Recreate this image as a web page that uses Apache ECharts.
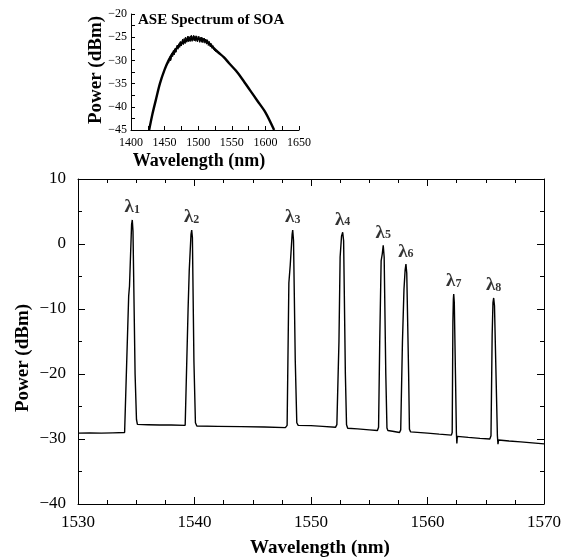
<!DOCTYPE html>
<html><head><meta charset="utf-8">
<script src="https://cdn.jsdelivr.net/npm/echarts@6/dist/echarts.min.js"></script>
<style>html,body{margin:0;padding:0;background:#fff}#c{width:573px;height:560px}</style>
</head><body><div id="c"></div>
<script>
// Main spectrum: [wavelength nm, power dBm]
const spectrum = [
 [1530,-29.1],[1531,-29.05],[1532,-29.1],[1533,-29.05],[1534.0,-29.0],
 [1534.15,-28.8],[1534.35,-8],[1534.42,-6.5],[1534.6,3.0],[1534.66,3.7],[1534.72,2.0],[1534.9,-20],[1535.02,-27.0],[1535.1,-27.75],
 [1536,-27.8],[1537,-27.85],[1538,-27.85],[1539.2,-27.9],[1539.35,-27.6],
 [1539.45,-10],[1539.55,-4],[1539.7,1.5],[1539.76,2.15],[1539.82,1.0],[1539.95,-18],[1540.08,-27.5],[1540.2,-28.0],
 [1542,-28.05],[1544,-28.1],[1546,-28.15],[1547.8,-28.25],[1547.95,-27.9],
 [1548.1,-6],[1548.22,-3.2],[1548.38,1.5],[1548.43,2.15],[1548.5,0.5],[1548.65,-18],[1548.78,-27.5],[1548.9,-27.9],
 [1550,-27.95],[1551,-28.05],[1552.1,-28.2],[1552.22,-27.8],
 [1552.4,-15],[1552.5,-2],[1552.62,1.2],[1552.72,1.8],[1552.8,0.5],[1552.95,-20],[1553.05,-27.8],[1553.15,-28.35],
 [1554,-28.45],[1555,-28.6],[1555.7,-28.7],[1555.8,-28.2],
 [1555.9,-15],[1556.02,-2.6],[1556.12,-1.5],[1556.2,-0.2],[1556.28,-2],[1556.42,-20],[1556.52,-28.3],[1556.6,-28.7],
 [1557,-28.8],[1557.6,-29.0],[1557.7,-28.6],
 [1557.85,-15],[1557.98,-7],[1558.08,-4],[1558.15,-3.1],[1558.22,-4.5],[1558.38,-20],[1558.45,-28.5],[1558.55,-28.9],
 [1560,-29.1],[1561,-29.25],[1562.05,-29.4],[1562.12,-29],
 [1562.18,-12],[1562.22,-8.5],[1562.25,-7.7],[1562.3,-9],[1562.4,-20],[1562.48,-29],[1562.52,-30.7],[1562.56,-29.6],
 [1563.5,-29.75],[1564.5,-29.9],[1565.35,-30.0],[1565.45,-29.5],
 [1565.55,-14],[1565.62,-9],[1565.68,-8.3],[1565.75,-9.5],[1565.88,-20],[1566.0,-29.5],[1566.05,-30.8],[1566.1,-30.15],
 [1567,-30.3],[1568,-30.45],[1569,-30.6],[1570,-30.75]
];
// Channel peaks
const channelNames = ['1','2','3','4','5','6','7','8'];
const peakWavelengths = [1534.66,1539.76,1548.43,1552.72,1556.2,1558.15,1562.25,1565.68];
const peakPowers = [3.7,2.15,2.15,1.8,-0.2,-3.1,-7.7,-8.3];
// Inset ASE spectrum
const aseSmooth = [
 [1427,-45],[1432,-41.5],[1437,-38.5],[1443,-35],[1450,-32],[1456,-30],[1462,-28.5],[1468,-27.4],[1474,-26.5],
 [1480,-25.9],[1486,-25.5],[1492,-25.3],[1498,-25.3],[1504,-25.5],[1510,-25.7],[1516,-26.3],[1522,-27.2],
 [1530,-28.3],[1538,-29.3],[1546,-30.6],[1556,-32.2],[1566,-34.1],[1577,-36.4],[1588,-38.7],[1600,-41.2],[1613,-45]
];
const aseNoiseA = [
 [1456,-30.6],[1457.5,-29.3],[1459,-30.1],[1460,-28.7],[1462,-29.2],[1463,-27.9],[1464.5,-28.8],[1466,-27.4],[1467,-28.2],
 [1468.5,-26.8],[1470,-27.6],[1471,-26.4],[1472.5,-27.2],[1474,-25.9],[1475,-26.9],[1476.5,-25.6],[1478,-26.6],[1479,-25.3],
 [1480.5,-26.4],[1482,-25.1],[1483,-26.1],[1484.5,-24.8],[1486,-26.0],[1487,-24.9],[1488.5,-25.9],[1490,-24.6],[1491,-25.9],
 [1492.5,-24.8],[1494,-25.8],[1495,-24.7],[1496.5,-25.9],[1498,-24.8],[1499,-26.0],[1500.5,-24.9],[1502,-26.1],[1503,-25.0],
 [1504.5,-26.1],[1506,-25.1],[1507,-26.2],[1508.5,-25.2],[1510,-26.3],[1511,-25.4],[1512.5,-26.5],[1514,-25.6],[1515,-26.8],
 [1516.5,-25.9],[1518,-27.1],[1519,-26.3],[1520.5,-27.4],[1522,-26.8],[1523,-27.7],[1525,-27.3],[1527,-28.2]
];
const aseNoiseB = [
 [1458,-29.1],[1459.5,-29.8],[1461,-28.4],[1462.5,-28.9],[1465,-27.5],[1466.5,-28.3],[1469,-26.7],[1470.5,-27.3],
 [1473,-26.0],[1474.5,-26.8],[1477,-25.4],[1478.5,-26.2],[1481,-25.0],[1482.5,-25.9],[1485,-24.8],[1486.5,-25.8],
 [1489,-24.7],[1490.5,-25.7],[1493,-24.6],[1494.5,-25.7],[1497,-24.7],[1498.5,-25.8],[1501,-24.8],[1502.5,-25.9],
 [1505,-25.0],[1506.5,-26.0],[1509,-25.2],[1510.5,-26.1],[1513,-25.5],[1514.5,-26.4],[1517,-26.0],[1518.5,-26.8],[1521,-26.7]
];

const SERIF = '"Liberation Serif","DejaVu Serif",serif';
const fmt = v => String(v).replace('-', '\u2212');

function axisCommon(o){
  return Object.assign({
    type:'value', splitLine:{show:false},
    axisLine:{show:true,onZero:false,lineStyle:{color:'#000',width:1}},
    axisTick:{show:true,inside:true,length:7,lineStyle:{color:'#000',width:1}},
    minorTick:{show:true,length:4,lineStyle:{color:'#000',width:1}},
    axisLabel:{show:true,color:'#000',fontFamily:SERIF,fontSize:17,formatter:fmt}
  }, o);
}

const chart = echarts.init(document.getElementById('c'));
chart.setOption({
  animation:false,
  backgroundColor:'#fff',
  grid:[
    {left:78,right:29,top:179,bottom:56},
    {left:131,top:14,width:168,height:116}
  ],
  xAxis:[
    axisCommon({gridIndex:0,min:1530,max:1570,interval:10,position:'bottom',
      minorTick:{show:true,splitNumber:4,length:4,lineStyle:{color:'#000',width:1}},
      axisLabel:{color:'#000',fontFamily:SERIF,fontSize:17,margin:10,formatter:fmt}}),
    axisCommon({gridIndex:0,min:1530,max:1570,interval:10,position:'top',
      minorTick:{show:true,splitNumber:4,length:4,lineStyle:{color:'#000',width:1}},axisLabel:{show:false}}),
    axisCommon({gridIndex:1,min:1400,max:1650,interval:50,position:'bottom',
      axisTick:{show:true,inside:true,length:4,lineStyle:{color:'#000',width:1}},
      minorTick:{show:true,splitNumber:2,length:4,lineStyle:{color:'#000',width:1}},
      axisLabel:{color:'#000',fontFamily:SERIF,fontSize:12,margin:7,formatter:fmt}})
  ],
  yAxis:[
    axisCommon({gridIndex:0,min:-40,max:10,interval:10,position:'left',
      minorTick:{show:true,splitNumber:2,length:4,lineStyle:{color:'#000',width:1}},
      axisLabel:{color:'#000',fontFamily:SERIF,fontSize:17,margin:12,formatter:fmt}}),
    axisCommon({gridIndex:0,min:-40,max:10,interval:10,position:'right',
      minorTick:{show:true,splitNumber:2,length:4,lineStyle:{color:'#000',width:1}},axisLabel:{show:false}}),
    axisCommon({gridIndex:1,min:-45,max:-20,interval:5,position:'left',
      axisTick:{show:true,inside:true,length:4,lineStyle:{color:'#000',width:1}},
      minorTick:{show:true,splitNumber:2,length:4,lineStyle:{color:'#000',width:1}},
      axisLabel:{color:'#000',fontFamily:SERIF,fontSize:12,margin:4,formatter:fmt}})
  ],
  series:[
    {type:'line',xAxisIndex:0,yAxisIndex:0,data:spectrum,showSymbol:false,lineStyle:{color:'#000',width:1.4},silent:true},
    {type:'scatter',xAxisIndex:0,yAxisIndex:0,symbolSize:0,silent:true,
      data:peakWavelengths.map((w,i)=>({value:[w,peakPowers[i]],name:channelNames[i]})),
      label:{show:true,position:'top',distance:3,
        formatter:p=>'{l|\u03bb}{n|'+p.name+'}',
        rich:{l:{fontFamily:SERIF,fontWeight:'bold',fontSize:19,color:'#000'},
              n:{fontFamily:SERIF,fontWeight:'bold',fontSize:12,color:'#000',verticalAlign:'bottom',padding:[0,0,1,0]}}}},
    {type:'line',xAxisIndex:2,yAxisIndex:2,data:aseSmooth,showSymbol:false,smooth:0.3,lineStyle:{color:'#000',width:2.4},silent:true},
    {type:'line',xAxisIndex:2,yAxisIndex:2,data:aseNoiseA,showSymbol:false,lineStyle:{color:'#000',width:1},silent:true},
    {type:'line',xAxisIndex:2,yAxisIndex:2,data:aseNoiseB,showSymbol:false,lineStyle:{color:'#000',width:1},silent:true}
  ],
  graphic:[
    {type:'text',left:138,top:13,style:{text:'ASE Spectrum of SOA',font:'bold 15px '+SERIF,fill:'#000'}},
    {type:'text',x:96,y:70,rotation:Math.PI/2,style:{text:'Power (dBm)',font:'bold 19px '+SERIF,fill:'#000',align:'center',verticalAlign:'middle'}},
    {type:'text',x:199,y:161,style:{text:'Wavelength (nm)',font:'bold 18px '+SERIF,fill:'#000',align:'center',verticalAlign:'middle'}},
    {type:'text',x:23,y:358,rotation:Math.PI/2,style:{text:'Power (dBm)',font:'bold 19px '+SERIF,fill:'#000',align:'center',verticalAlign:'middle'}},
    {type:'text',x:320,y:548,style:{text:'Wavelength (nm)',font:'bold 19px '+SERIF,fill:'#000',align:'center',verticalAlign:'middle'}}
  ]
});
</script></body></html>
